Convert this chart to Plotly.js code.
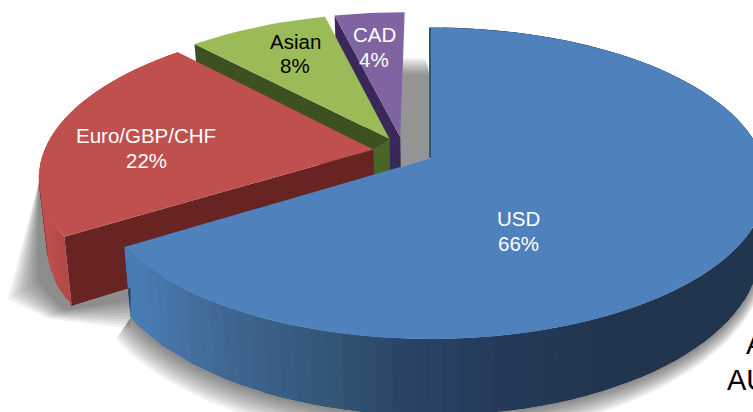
<!DOCTYPE html>
<html><head><meta charset="utf-8">
<script src="https://cdn.plot.ly/plotly-3.0.1.min.js"></script>
<style>html,body{margin:0;padding:0;background:#fff;overflow:hidden}</style>
</head><body><div id="chart" style="width:753px;height:412px"></div>
<script>
// ---- data ----
const categories = ['USD', 'Euro/GBP/CHF', 'Asian', 'CAD'];
const shares = [66, 22, 8, 4];
const clippedText = ['A', 'AU'];

// ---- styling ----
const topColors = ['#4f81bd', '#c0504d', '#9bbb59', '#8064a2'];
const textColors = ['#ffffff', '#ffffff', '#000000', '#ffffff'];
const radialColors = [null, '#672422', '#3d5020', '#3a2958'];
const rimStops = [
  [[135,[74,124,180]],[230,[63,102,144]],[330,[51,86,119]],[400,[43,69,104]],[500,[36,58,88]],[620,[34,53,79]]],
  [[42,[192,80,77]],[80,[168,66,63]]]
];
const labelPos = [[518,218,243],[146,135,160],[295,41,65],[374,34,59]];

// ---- perspective of the pie's ground plane ----
const CX=431, CY=158, RX=331.6, RY=151.7, K=0.162, DEPTH=64, EXPLODE=0.094, CONV=0.02;
const rad=d=>d*Math.PI/180;
const dir=d=>[Math.sin(rad(d)),Math.cos(rad(d))];
const proj=(X,Y)=>{const w=1+K*Y;return [CX+RX*X/w,CY-RY*Y/w,w];};
const lower=p=>[CX+(p[0]-CX)*(1-CONV),p[1]+DEPTH/p[2],p[2]];
const lerp=(a,b,t)=>[a[0]+(b[0]-a[0])*t,a[1]+(b[1]-a[1])*t];

const total=shares.reduce((a,b)=>a+b,0);
let acc=0;
const slices=shares.map(v=>{const s=acc;acc+=v/total*360;return {a0:s,a1:acc,mid:(s+acc)/2};});
const base=dir(slices[0].mid);
slices.forEach(s=>{
  const m=dir(s.mid);
  s.ox=EXPLODE*(m[0]-base[0]); s.oy=EXPLODE*(m[1]-base[1]);
  s.apex=proj(s.ox,s.oy);
  s.rimAt=d=>{const u=dir(d);return proj(s.ox+u[0],s.oy+u[1]);};
  s.rim=[];
  const n=Math.max(8,Math.ceil((s.a1-s.a0)/2.5));
  for(let i=0;i<=n;i++) s.rim.push(s.rimAt(s.a0+(s.a1-s.a0)*i/n));
});

const traces=[];
function poly(pts,fill){
  traces.push({type:'scatter',mode:'lines',x:pts.map(p=>p[0]).concat(pts[0][0]),y:pts.map(p=>p[1]).concat(pts[0][1]),
    fill:'toself',fillcolor:fill,line:{width:0,color:'rgba(0,0,0,0)'},hoverinfo:'skip',showlegend:false});
}
function lerpColor(stops,x){
  if(x<=stops[0][0]) return `rgb(${stops[0][1].join(',')})`;
  for(let i=1;i<stops.length;i++){
    if(x<=stops[i][0]){
      const t=(x-stops[i-1][0])/(stops[i][0]-stops[i-1][0]);
      const c=stops[i-1][1].map((v,k)=>Math.round(v+(stops[i][1][k]-v)*t));
      return `rgb(${c.join(',')})`;
    }
  }
  return `rgb(${stops[stops.length-1][1].join(',')})`;
}
function resample(line,N){
  const seg=[];let len=0;
  for(let i=0;i<line.length-1;i++){const l=Math.hypot(line[i+1][0]-line[i][0],line[i+1][1]-line[i][1]);seg.push(l);len+=l;}
  const out=[];
  for(let k=0;k<N;k++){
    let d=len*k/(N-1),i=0;
    while(i<seg.length-1&&d>seg[i]){d-=seg[i];i++;}
    out.push(lerp(line[i],line[i+1],seg[i]?Math.min(1,d/seg[i]):0));
  }
  return out;
}
const LAYERS=10;
const layerAlpha=t=>(1-Math.pow(1-t,1/LAYERS)).toFixed(4);

// text sitting under the pie, cut by the picture's right edge
traces.push({type:'scatter',mode:'text',x:[746,727],y:[347,383],text:clippedText,
  textposition:'middle right',textfont:{family:'Liberation Sans, Arial, sans-serif',size:29,color:'#000'},
  hoverinfo:'skip',showlegend:false});

const [usd,eur,asi,cad]=slices;

// slices, back to front
[3,2,1,0].forEach(i=>{
  const s=slices[i];
  const bot=s.rim.map(lower);
  if(i<2){
    for(let j=0;j<s.rim.length-1;j++){
      const e=Math.min(j+2,s.rim.length-1);
      const midX=(s.rim[j][0]+s.rim[j+1][0])/2;
      poly([s.rim[j],s.rim[e],bot[e],bot[j]],lerpColor(rimStops[i],midX));
    }
  }
  if(radialColors[i]) poly([s.rim[0],s.apex,lower(s.apex),bot[0]],radialColors[i]);
  if(i===2){
    const ab=lower(s.apex), mid=eur.apex;
    poly([[mid[0],mid[1]],s.apex,ab,[mid[0],ab[1]+4]],'#4a6626');
  }
  if(i===0){
    const a=s.rim[0],b=s.apex;
    poly([[a[0]-2,a[1]],[a[0],a[1]],[b[0],b[1]],[b[0]-2,b[1]]],'#2f5480');
  }
  poly(s.rim.concat([s.apex]),topColors[i]);
});

// soft shadow: fading bands laid around the pie's outline
const shade=a=>`rgba(0,0,0,${a})`;
// under the USD wall
const usdInner=[];
for(let a=90;a<=usd.a1+0.001;a+=2.5) usdInner.push(lower(usd.rimAt(Math.min(a,usd.a1))));
const usdReach=usdInner.map(p=>{
  let nx=(p[0]-CX)/(336*336),ny=(p[1]-251)/(156*156);const l=Math.hypot(nx,ny)||1;nx/=l;ny/=l;
  const m=p[0]>CX?1-0.3*(p[0]-CX)/330:1;
  return [(-5+14*nx)*m,(12+14*ny)*m];
});
for(let i=0;i<LAYERS;i++){
  const t=0.1+0.9*i/(LAYERS-1);
  const outer=usdInner.map((p,k)=>[p[0]+usdReach[k][0]*t,p[1]+usdReach[k][1]*t]).reverse();
  poly(usdInner.map(p=>[p[0],p[1]]).concat(outer),shade(layerAlpha(0.42)));
}
// left of and under the red wall
const sb=lower(eur.rim[0]), sa=lower(eur.apex), tip=lower(usd.rim[usd.rim.length-1]);
const wallEnd=lerp(sb,sa,(tip[0]-sb[0])/(sa[0]-sb[0]));
const redLine=[eur.rimAt(258),lower(eur.rimAt(258))];
for(let a=255;a>=eur.a0;a-=2.5) redLine.push(lower(eur.rimAt(a)));
redLine.push(sb,[wallEnd[0],wallEnd[1]]);
const redInner=resample(redLine,40);
const redOuter=resample([eur.rimAt(258),[sb[0]-60,sb[1]-9],[sb[0]-22,sb[1]+11],[sb[0]+4,sb[1]+14],[tip[0],tip[1]+8]],40);
for(let i=0;i<LAYERS;i++){
  const t=0.35+0.75*i/(LAYERS-1);
  poly(redInner.concat(redInner.map((p,k)=>lerp(p,redOuter[k],t)).reverse()),shade(layerAlpha(0.42)));
}
// the gap between the purple slice and the USD slice
const cadTop=cad.rim[cad.rim.length-1], usdEdge=usd.rim[usd.rim.length-1];
const gapRight=usd.rim[0][0]-2;
const gapBottom=lerp(usd.apex,usdEdge,(usd.apex[0]-cad.apex[0])/(usd.apex[0]-usdEdge[0]));
for(let i=0;i<LAYERS;i++){
  const yTop=58+1.8*i;
  const left=lerp(cadTop,cad.apex,(yTop-cadTop[1])/(cad.apex[1]-cadTop[1]));
  const right=[gapRight-0.9*(LAYERS-1-i)/2,yTop];
  poly([left,right,[gapRight,yTop+8],[gapRight,usd.apex[1]+0.5],gapBottom,cad.apex],shade(layerAlpha(0.40)));
}

const font=c=>({family:'Liberation Sans, Arial, sans-serif',size:20.5,color:c});
const annotations=[];
categories.forEach((c,i)=>{
  const p=labelPos[i];
  annotations.push({x:p[0],y:p[1],text:c,showarrow:false,font:font(textColors[i]),xanchor:'center',yanchor:'middle'});
  annotations.push({x:p[0],y:p[2],text:shares[i]+'%',showarrow:false,font:font(textColors[i]),xanchor:'center',yanchor:'middle'});
});

Plotly.newPlot('chart',traces,{
  width:753,height:412,margin:{l:0,r:0,t:0,b:0},
  paper_bgcolor:'#fff',plot_bgcolor:'#fff',showlegend:false,
  xaxis:{range:[0,753],visible:false,fixedrange:true},
  yaxis:{range:[412,0],visible:false,fixedrange:true},
  annotations
},{displayModeBar:false,staticPlot:true});
</script></body></html>
